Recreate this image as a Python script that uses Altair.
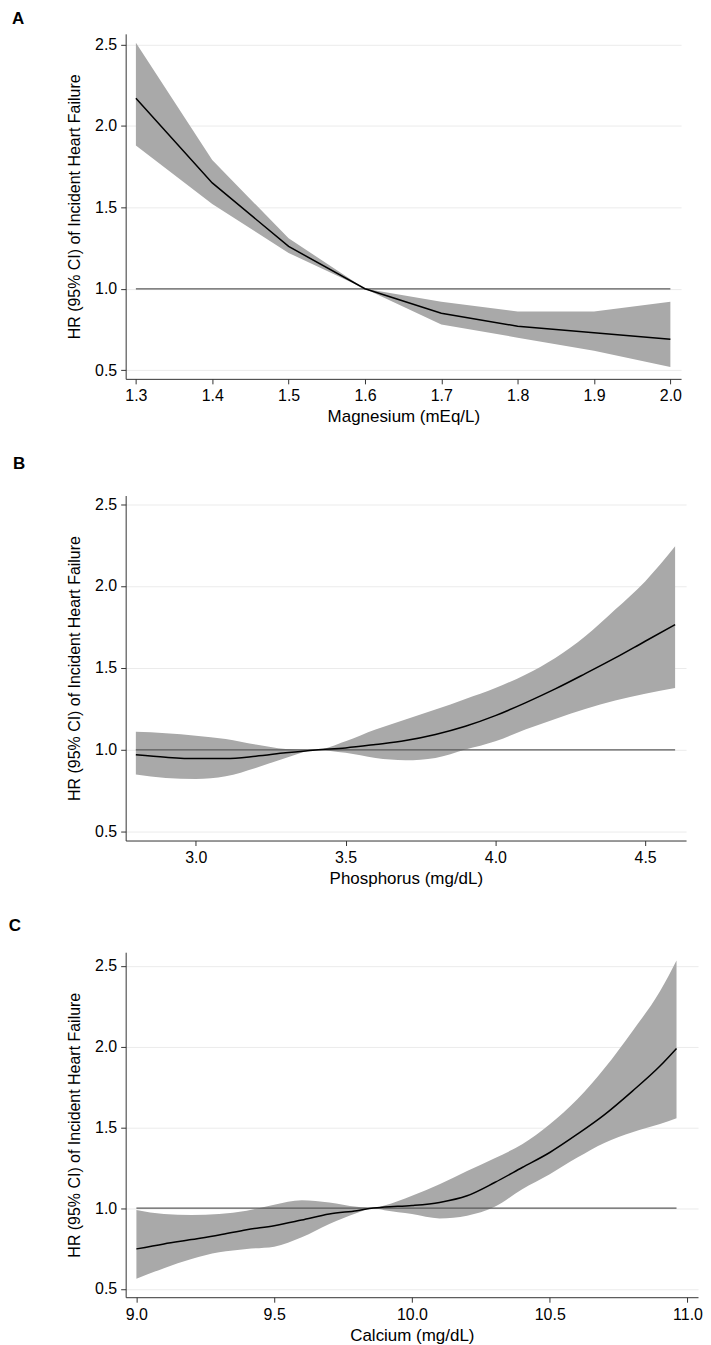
import altair as alt
import pandas as pd

# Panel A: Magnesium
mg_x = [1.3, 1.4, 1.5, 1.6, 1.7, 1.8, 1.9, 2.0]
mg_hr = [2.17, 1.65, 1.26, 1.00, 0.85, 0.77, 0.73, 0.69]
mg_lo = [1.88, 1.52, 1.22, 1.00, 0.78, 0.70, 0.62, 0.52]
mg_hi = [2.51, 1.79, 1.31, 1.00, 0.92, 0.86, 0.86, 0.92]

# Panel B: Phosphorus
ph_x = [2.8, 2.9, 3.0, 3.1, 3.2, 3.3, 3.4, 3.5, 3.6, 3.7, 3.8, 3.9, 4.0, 4.1, 4.2, 4.3, 4.4, 4.5, 4.6]
ph_hr = [0.970, 0.955, 0.947, 0.947, 0.961, 0.982, 1.0, 1.012, 1.033, 1.057, 1.094, 1.144, 1.209, 1.287, 1.372, 1.465, 1.561, 1.663, 1.764]
ph_lo = [0.850, 0.829, 0.823, 0.839, 0.890, 0.951, 1.0, 0.982, 0.951, 0.937, 0.951, 1.002, 1.053, 1.124, 1.189, 1.250, 1.301, 1.343, 1.378]
ph_hi = [1.110, 1.102, 1.087, 1.067, 1.033, 1.006, 1.0, 1.053, 1.124, 1.185, 1.246, 1.311, 1.378, 1.459, 1.561, 1.693, 1.856, 2.028, 2.242]

# Panel C: Calcium
ca_x = [9.0, 9.1, 9.2, 9.3, 9.4, 9.5, 9.6, 9.7, 9.8, 9.86, 9.9, 10.0, 10.1, 10.2, 10.3, 10.4, 10.5, 10.6, 10.7, 10.8, 10.9, 10.96]
ca_hr = [0.747, 0.778, 0.805, 0.833, 0.866, 0.891, 0.926, 0.963, 0.984, 1.0, 1.006, 1.016, 1.035, 1.076, 1.158, 1.251, 1.344, 1.457, 1.580, 1.724, 1.879, 1.988]
ca_lo = [0.562, 0.628, 0.685, 0.726, 0.747, 0.761, 0.819, 0.901, 0.969, 1.0, 0.986, 0.963, 0.936, 0.953, 1.008, 1.117, 1.210, 1.313, 1.405, 1.470, 1.520, 1.556]
ca_hi = [0.988, 0.963, 0.957, 0.963, 0.984, 1.021, 1.049, 1.035, 1.008, 1.0, 1.016, 1.076, 1.148, 1.230, 1.309, 1.395, 1.519, 1.673, 1.868, 2.095, 2.342, 2.533]

y_ticks = [0.5, 1.0, 1.5, 2.0, 2.5]
y_title = "HR (95% CI) of Incident Heart Failure"
FONT = "Liberation Sans"


def panel(xs, hr, lo, hi, x_dom, x_ticks, x_title, y_dom, width, letter, ldx, ldy, interp):
    df = pd.DataFrame({"x": xs, "hr": hr, "lo": lo, "hi": hi})
    ref = pd.DataFrame({"x": [xs[0]], "x2": [xs[-1]], "y": [1.0]})
    xscale = alt.Scale(domain=x_dom, nice=False, zero=False)
    yscale = alt.Scale(domain=y_dom, nice=False, zero=False)
    xaxis = alt.Axis(values=x_ticks, format=".1f", grid=False, tickSize=5,
                     labelPadding=4, titlePadding=5, titleFontSize=17)
    yaxis = alt.Axis(values=y_ticks, format=".1f", grid=True, tickSize=5,
                     labelPadding=4, titlePadding=12)
    area = alt.Chart(df).mark_area(color="#a9a9a9", opacity=1, interpolate=interp).encode(
        x=alt.X("x:Q", scale=xscale, axis=xaxis, title=x_title),
        y=alt.Y("lo:Q", scale=yscale, axis=yaxis, title=y_title),
        y2="hi:Q",
    )
    rule = alt.Chart(ref).mark_rule(color="#5a5a5a", strokeWidth=1.3).encode(
        x=alt.X("x:Q", scale=xscale, title=x_title),
        x2="x2:Q",
        y=alt.Y("y:Q", scale=yscale, title=y_title),
    )
    line = alt.Chart(df).mark_line(color="black", strokeWidth=1.5, interpolate=interp).encode(
        x=alt.X("x:Q", scale=xscale, title=x_title),
        y=alt.Y("hr:Q", scale=yscale, title=y_title),
    )
    lab = alt.Chart(pd.DataFrame({"t": [letter]})).mark_text(
        align="left", baseline="alphabetic", fontSize=17, fontWeight="bold",
        font=FONT, color="black"
    ).encode(x=alt.value(ldx), y=alt.value(ldy), text="t:N")
    return alt.layer(area, rule, line, lab).properties(width=width, height=346)


pA = panel(mg_x, mg_hr, mg_lo, mg_hi, [1.2866, 2.014], [1.3, 1.4, 1.5, 1.6, 1.7, 1.8, 1.9, 2.0],
           "Magnesium (mEq/L)", [0.447, 2.565], 557, "A", -114, -9.4, "linear")
pB = panel(ph_x, ph_hr, ph_lo, ph_hi, [2.766, 4.6365], [3.0, 3.5, 4.0, 4.5],
           "Phosphorus (mg/dL)", [0.447, 2.552], 562, "B", -113, -26.7, "monotone")
pC = panel(ca_x, ca_hr, ca_lo, ca_hi, [8.961, 11.038], [9.0, 9.5, 10.0, 10.5, 11.0],
           "Calcium  (mg/dL)", [0.448, 2.584], 574, "C", -117.3, -21.1, "monotone")

chart = alt.vconcat(pA, pB, pC, spacing=30).properties(
    padding={"left": 0, "top": 0, "right": 0, "bottom": 0}
).configure_view(stroke=None).configure_axis(
    labelFont=FONT, titleFont=FONT, labelFontSize=16, titleFontSize=16,
    labelColor="black", titleColor="black", titleFontWeight="normal",
    domainColor="#333333", tickColor="#333333", gridColor="#ebebeb",
    domainWidth=1, tickWidth=1, gridWidth=1,
)

chart.save("out.html", embed_options={"renderer": "svg", "actions": False})
